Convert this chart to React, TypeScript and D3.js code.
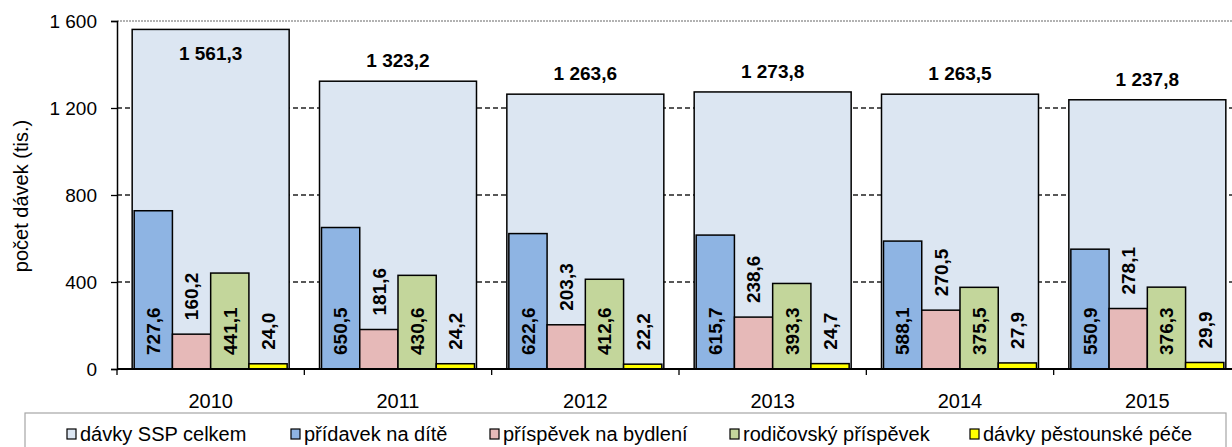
import { useEffect, useRef } from "react"
import * as d3 from "d3"

const years = ["2010", "2011", "2012", "2013", "2014", "2015"]
const celkem = [1561.3, 1323.2, 1263.6, 1273.8, 1263.5, 1237.8]
const pridavek = [727.6, 650.5, 622.6, 615.7, 588.1, 550.9]
const bydleni = [160.2, 181.6, 203.3, 238.6, 270.5, 278.1]
const rodicovsky = [441.1, 430.6, 412.6, 393.3, 375.5, 376.3]
const pestounske = [24.0, 24.2, 22.2, 24.7, 27.9, 29.9]
const yTicks = [0, 400, 800, 1200, 1600]

const seriesNames = [
  "dávky SSP celkem",
  "přídavek na dítě",
  "příspěvek na bydlení",
  "rodičovský příspěvek",
  "dávky pěstounské péče",
]

const FONT = "'Liberation Sans', Arial, sans-serif"

export default function App() {
  const svgRef = useRef<SVGSVGElement>(null)

  useEffect(() => {
    if (!svgRef.current) return
    const svg = d3.select(svgRef.current)
    svg.selectAll("*").remove()

    const left = 117
    const top = 21
    const bottom = 369
    const right = 1241

    const locale = d3.formatLocale({ decimal: ",", thousands: "\u00a0", grouping: [3], currency: ["", ""] })
    const fmt1 = locale.format(",.1f")
    const fmt0 = locale.format(",d")

    const colors = ["#dce6f2", "#8eb4e3", "#e6b9b8", "#c3d69b", "#ffff00"]
    const inner = [
      { key: "pridavek", values: pridavek, color: colors[1], inside: true },
      { key: "bydleni", values: bydleni, color: colors[2], inside: false },
      { key: "rodicovsky", values: rodicovsky, color: colors[3], inside: true },
      { key: "pestounske", values: pestounske, color: colors[4], inside: false },
    ]

    const x = d3.scaleBand().domain(years).range([left, right]).paddingInner(0.162).paddingOuter(0.081)
    const y = d3.scaleLinear().domain([0, 1600]).range([bottom, top])
    const xSub = d3
      .scaleBand()
      .domain(inner.map((s) => s.key))
      .range([2, x.bandwidth() - 2])

    svg.attr("font-family", FONT)

    // grid lines
    svg
      .append("g")
      .selectAll("line")
      .data(yTicks.filter((t) => t > 0 && t < 1600))
      .enter()
      .append("line")
      .attr("x1", left)
      .attr("x2", right)
      .attr("y1", (d) => y(d))
      .attr("y2", (d) => y(d))
      .attr("stroke", "#222")
      .attr("stroke-width", 1.3)
      .attr("stroke-dasharray", "5,3")

    svg
      .append("line")
      .attr("x1", left)
      .attr("x2", right)
      .attr("y1", y(1600))
      .attr("y2", y(1600))
      .attr("stroke", "#999")
      .attr("stroke-width", 1.5)
      .attr("stroke-dasharray", "2,1")

    // total bars
    const groups = svg
      .append("g")
      .selectAll("g")
      .data(years)
      .enter()
      .append("g")
      .attr("transform", (d) => `translate(${x(d)},0)`)

    groups
      .append("rect")
      .attr("x", 0)
      .attr("y", (_, i) => y(celkem[i]))
      .attr("width", x.bandwidth())
      .attr("height", (_, i) => y(0) - y(celkem[i]))
      .attr("fill", colors[0])
      .attr("stroke", "#000")
      .attr("stroke-width", 1.5)

    groups
      .append("text")
      .attr("x", x.bandwidth() / 2)
      .attr("y", (_, i) => Math.max(y(celkem[i]) - 14, 60))
      .attr("text-anchor", "middle")
      .attr("font-size", 19)
      .attr("font-weight", "bold")
      .text((_, i) => fmt1(celkem[i]))

    // component bars
    inner.forEach((s) => {
      groups
        .append("rect")
        .attr("x", xSub(s.key) || 0)
        .attr("y", (_, i) => y(s.values[i]))
        .attr("width", xSub.bandwidth())
        .attr("height", (_, i) => y(0) - y(s.values[i]))
        .attr("fill", s.color)
        .attr("stroke", "#000")
        .attr("stroke-width", 1.5)

      groups
        .append("text")
        .attr("transform", (_, i) => {
          const cx = (xSub(s.key) || 0) + xSub.bandwidth() / 2
          const cy = s.inside ? y(0) - 14 : y(s.values[i]) - 14
          return `translate(${cx},${cy}) rotate(-90)`
        })
        .attr("dy", "0.36em")
        .attr("text-anchor", "start")
        .attr("font-size", 19)
        .attr("font-weight", "bold")
        .text((_, i) => fmt1(s.values[i]))
    })

    // y axis
    const yAxis = svg
      .append("g")
      .attr("transform", `translate(${left},0)`)
      .call(d3.axisLeft(y).tickValues(yTicks).tickSize(6).tickPadding(14).tickFormat((d) => fmt0(d as number)))
    yAxis.select(".domain").attr("stroke", "#000").attr("stroke-width", 1.5)
    yAxis.selectAll(".tick line").attr("stroke", "#000").attr("stroke-width", 1.3)
    yAxis.selectAll("text").attr("font-size", 19).attr("font-family", FONT).attr("fill", "#000")

    // x axis
    const xAxis = svg.append("g").attr("transform", `translate(0,${bottom})`)
    xAxis
      .append("line")
      .attr("x1", left)
      .attr("x2", right)
      .attr("stroke", "#000")
      .attr("stroke-width", 2)
    xAxis
      .selectAll(".xt")
      .data(d3.range(years.length + 1))
      .enter()
      .append("line")
      .attr("x1", (i) => left + i * x.step())
      .attr("x2", (i) => left + i * x.step())
      .attr("y1", 0)
      .attr("y2", 6)
      .attr("stroke", "#000")
      .attr("stroke-width", 1.3)
    xAxis
      .selectAll(".xl")
      .data(years)
      .enter()
      .append("text")
      .attr("x", (d) => (x(d) || 0) + x.bandwidth() / 2)
      .attr("y", 39)
      .attr("text-anchor", "middle")
      .attr("font-size", 20)
      .text((d) => d)

    // y title
    svg
      .append("text")
      .attr("transform", `translate(21,196) rotate(-90)`)
      .attr("dy", "0.35em")
      .attr("text-anchor", "middle")
      .attr("font-size", 20)
      .text("počet dávek (tis.)")

    // legend
    const legendX = [67, 291, 490, 730, 970]
    svg
      .append("rect")
      .attr("x", 25)
      .attr("y", 413)
      .attr("width", 1201)
      .attr("height", 60)
      .attr("fill", "#fff")
      .attr("stroke", "#a6a6a6")
      .attr("stroke-width", 1.2)
    const items = svg
      .append("g")
      .selectAll("g")
      .data(seriesNames)
      .enter()
      .append("g")
      .attr("transform", (_, i) => `translate(${legendX[i]},0)`)
    items
      .append("rect")
      .attr("x", 0)
      .attr("y", 429)
      .attr("width", 9)
      .attr("height", 10)
      .attr("fill", (_, i) => colors[i])
      .attr("stroke", "#000")
      .attr("stroke-width", 1.2)
    items
      .append("text")
      .attr("x", 13)
      .attr("y", 441)
      .attr("font-size", 20)
      .text((d) => d)
  }, [])

  return (
    <div style={{ position: "fixed", left: 0, top: 0 }}>
      <svg ref={svgRef} width={1232} height={447} style={{ display: "block", background: "#fff" }} />
    </div>
  )
}
